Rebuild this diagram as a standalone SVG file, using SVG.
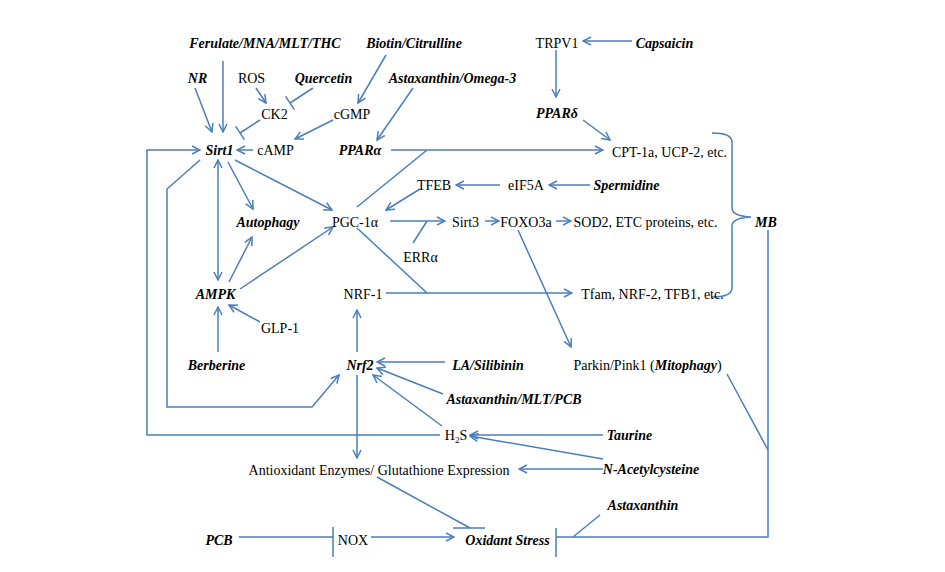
<svg xmlns="http://www.w3.org/2000/svg" width="945" height="572" viewBox="0 0 945 572">
<defs>
<style>
.t{font-family:"Liberation Serif","Times New Roman",serif;font-size:14px;fill:#000;text-anchor:middle}
.b{font-weight:bold;font-style:italic}
.c{fill:none;stroke:#4A7EBB;stroke-width:1.5}
.a{marker-end:url(#ah)}
</style>
<marker id="ah" viewBox="0 0 10 10" refX="9" refY="5" markerWidth="10" markerHeight="10" orient="auto-start-reverse" markerUnits="userSpaceOnUse">
<path d="M1,1 L9,5 L1,9" fill="none" stroke="#4A7EBB" stroke-width="1.5"/>
</marker>
</defs>
<rect width="945" height="572" fill="#fff"/>
<g id="connectors">
<path class="c a" d="M632,41 L583,41"/>
<path class="c a" d="M556,50 L556,97"/>
<path class="c a" d="M583,120 L610,140"/>
<path class="c a" d="M391,150 L603,150"/>
<path class="c" d="M357,207 L427,150"/>
<path class="c a" d="M195,88 L212,132"/>
<path class="c a" d="M223,61 L223,132"/>
<path class="c a" d="M256,88 L266,103"/>
<path class="c" d="M313,88 L290,103 M285.6,96.3 L294.4,109.7"/>
<path class="c" d="M260,120 L240,133 M235.6,126.3 L244.4,139.7"/>
<path class="c a" d="M386,55 L358,103"/>
<path class="c a" d="M333,120 L295,139"/>
<path class="c a" d="M253,150 L237,150"/>
<path class="c a" d="M413,88 L377,140"/>
<path class="c a" d="M440,435 L147,435 L147,150 L200,150"/>
<path class="c a" d="M218,160 L218,280" marker-start="url(#ah)"/>
<path class="c a" d="M228,162 L253,209"/>
<path class="c a" d="M235,160 L332,210"/>
<path class="c a" d="M200,160 L167,189 L167,407 L312,407 L339,375"/>
<path class="c a" d="M229,282 L252,237"/>
<path class="c a" d="M240,289 L333,227"/>
<path class="c a" d="M420,189 L386,210"/>
<path class="c a" d="M500,185 L456,185"/>
<path class="c a" d="M590,185 L549,185"/>
<path class="c a" d="M390,221 L445,221"/>
<path class="c" d="M413,243 L427,221"/>
<path class="c a" d="M485,221 L499,221"/>
<path class="c a" d="M556,221 L571,221"/>
<path class="c a" d="M386,293 L572,293"/>
<path class="c" d="M357,228 L427,293"/>
<path class="c a" d="M518,230 L571,347"/>
<path class="c a" d="M218,352 L218,307"/>
<path class="c a" d="M260,322 L229,305"/>
<path class="c a" d="M357,352 L357,310"/>
<path class="c a" d="M445,362 L377,362"/>
<path class="c a" d="M443,394 L377,368"/>
<path class="c a" d="M442,426 L373,375"/>
<path class="c a" d="M357,375 L357,458"/>
<path class="c a" d="M603,435 L470,435"/>
<path class="c a" d="M603,459 L470,436"/>
<path class="c a" d="M603,469 L519,469"/>
<path class="c" d="M377,477 L470,528 M453,528 L485,528"/>
<path class="c" d="M239,537 L333,537 M333,527 L333,557"/>
<path class="c a" d="M371,537 L454,537"/>
<path class="c" d="M768,230 L768,537 L556,537 M556,528 L556,557"/>
<path class="c" d="M600,515 L573,537"/>
<path class="c" d="M727,374 L768,450"/>
<path class="c" d="M712,133 Q732,133 732,142 L732,208 Q732,216 751,217 Q732,218 732,226 L732,288 Q732,297 712,297"/>
</g>
<g id="ferulate"><text class="t b" x="265" y="48">Ferulate/MNA/MLT/THC</text></g>
<g id="biotin"><text class="t b" x="414" y="48">Biotin/Citrulline</text></g>
<g id="trpv1"><text class="t" x="557" y="48">TRPV1</text></g>
<g id="capsaicin"><text class="t b" x="664.5" y="48">Capsaicin</text></g>
<g id="nr"><text class="t b" x="197.5" y="83">NR</text></g>
<g id="ros"><text class="t" x="251.5" y="83">ROS</text></g>
<g id="quercetin"><text class="t b" x="323.5" y="83">Quercetin</text></g>
<g id="astaxanthin-omega"><text class="t b" x="452.5" y="83">Astaxanthin/Omega-3</text></g>
<g id="ck2"><text class="t" x="274.5" y="119">CK2</text></g>
<g id="cgmp"><text class="t" x="352" y="119">cGMP</text></g>
<g id="ppard"><text class="t b" x="557" y="118">PPARδ</text></g>
<g id="sirt1"><text class="t b" x="219.5" y="155">Sirt1</text></g>
<g id="camp"><text class="t" x="275.5" y="155">cAMP</text></g>
<g id="ppara"><text class="t b" x="360" y="155">PPARα</text></g>
<g id="cpt"><text class="t" x="669.5" y="157">CPT-1a, UCP-2, etc.</text></g>
<g id="tfeb"><text class="t" x="434" y="190">TFEB</text></g>
<g id="eif5a"><text class="t" x="526" y="190">eIF5A</text></g>
<g id="spermidine"><text class="t b" x="626.5" y="190">Spermidine</text></g>
<g id="autophagy"><text class="t b" x="268" y="227">Autophagy</text></g>
<g id="pgc1a"><text class="t" x="355" y="227">PGC-1α</text></g>
<g id="sirt3"><text class="t" x="465.5" y="227">Sirt3</text></g>
<g id="foxo3a"><text class="t" x="526" y="227">FOXO3a</text></g>
<g id="sod2"><text class="t" x="645.5" y="227">SOD2, ETC proteins, etc.</text></g>
<g id="mb"><text class="t b" x="766" y="227">MB</text></g>
<g id="erra"><text class="t" x="420.5" y="262">ERRα</text></g>
<g id="ampk"><text class="t b" x="215.5" y="299">AMPK</text></g>
<g id="nrf1"><text class="t" x="363" y="299">NRF-1</text></g>
<g id="tfam"><text class="t" x="652.5" y="299">Tfam, NRF-2, TFB1, etc.</text></g>
<g id="glp1"><text class="t" x="280" y="333">GLP-1</text></g>
<g id="berberine"><text class="t b" x="216.5" y="370">Berberine</text></g>
<g id="nrf2"><text class="t b" x="360" y="370">Nrf2</text></g>
<g id="la-silibinin"><text class="t b" x="488" y="370">LA/Silibinin</text></g>
<g id="parkin"><text class="t" x="647.5" y="370">Parkin/Pink1 (<tspan class="b">Mitophagy</tspan>)</text></g>
<g id="astaxanthin-mlt-pcb"><text class="t b" x="514" y="404">Astaxanthin/MLT/PCB</text></g>
<g id="h2s"><text class="t" x="456" y="440">H<tspan font-size="9" dy="3">2</tspan><tspan dy="-3">S</tspan></text></g>
<g id="taurine"><text class="t b" x="629.5" y="440">Taurine</text></g>
<g id="nac"><text class="t b" x="651" y="474">N-Acetylcysteine</text></g>
<g id="antioxidant"><text class="t" x="379" y="475">Antioxidant Enzymes/ Glutathione Expression</text></g>
<g id="astaxanthin"><text class="t b" x="643" y="510">Astaxanthin</text></g>
<g id="pcb"><text class="t b" x="219" y="545">PCB</text></g>
<g id="nox"><text class="t" x="353" y="545">NOX</text></g>
<g id="oxidant-stress"><text class="t b" x="507.5" y="545">Oxidant Stress</text></g>
</svg>
